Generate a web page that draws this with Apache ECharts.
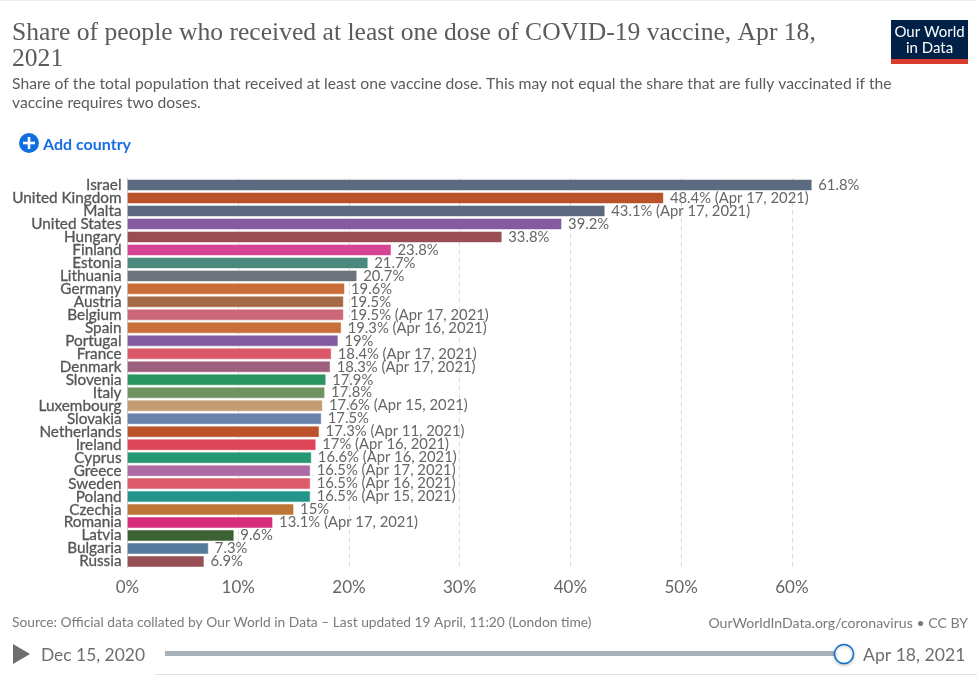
<!DOCTYPE html>
<html>
<head>
    <meta charset="UTF-8">
    <title>Share of people who received at least one dose of COVID-19 vaccine</title>
    <style>
        html, body { margin: 0; padding: 0; background: #fff; }
    </style>
</head>
<body>
<div id="main" style="width: 977px;height:676px;"></div>
<script type="text/javascript" src="https://cdn.jsdelivr.net/npm/echarts@6/dist/echarts.min.js"></script>
<script type="text/javascript">
    var countries = ['Israel', 'United Kingdom', 'Malta', 'United States', 'Hungary', 'Finland', 'Estonia', 'Lithuania',
        'Germany', 'Austria', 'Belgium', 'Spain', 'Portugal', 'France', 'Denmark', 'Slovenia', 'Italy', 'Luxembourg',
        'Slovakia', 'Netherlands', 'Ireland', 'Cyprus', 'Greece', 'Sweden', 'Poland', 'Czechia', 'Romania', 'Latvia',
        'Bulgaria', 'Russia'];
    var shares = [61.8, 48.4, 43.1, 39.2, 33.8, 23.8, 21.7, 20.7, 19.6, 19.5, 19.5, 19.3, 19, 18.4, 18.3, 17.9, 17.8, 17.6,
        17.5, 17.3, 17, 16.6, 16.5, 16.5, 16.5, 15, 13.1, 9.6, 7.3, 6.9];
    // date shown after the value when it is not the selected day
    var dates = ['', 'Apr 17, 2021', 'Apr 17, 2021', '', '', '', '', '',
        '', '', 'Apr 17, 2021', 'Apr 16, 2021', '', 'Apr 17, 2021', 'Apr 17, 2021', '', '', 'Apr 15, 2021',
        '', 'Apr 11, 2021', 'Apr 16, 2021', 'Apr 16, 2021', 'Apr 17, 2021', 'Apr 16, 2021', 'Apr 15, 2021', '', 'Apr 17, 2021', '',
        '', ''];
    var barColors = ['#5b6a7f', '#bb5229', '#5b697e', '#845ba0', '#994e56', '#d64495', '#4a8a7d', '#6f737b',
        '#c96d38', '#a66a47', '#cb6878', '#c96f3a', '#845ba0', '#db5868', '#9d5f7e', '#2a9560', '#6f9461', '#c39d72',
        '#6882aa', '#bb5229', '#dd4658', '#259873', '#ad6aa4', '#dd5a6a', '#23958d', '#bd7635', '#d62e7d', '#3c6234',
        '#547a9c', '#964f55'];
    var axisMax = 62;
    var tickStep = 10;

    var titleLines = ['Share of people who received at least one dose of COVID-19 vaccine, Apr 18,', '2021'];
    var subtitleLines = ['Share of the total population that received at least one vaccine dose. This may not equal the share that are fully vaccinated if the',
        'vaccine requires two doses.'];
    var sourceText = 'Source: Official data collated by Our World in Data \u2013 Last updated 19 April, 11:20 (London time)';
    var urlText = 'OurWorldInData.org/coronavirus \u2022 CC BY';
    var startDate = 'Dec 15, 2020';
    var endDate = 'Apr 18, 2021';

    var bodyFont = 'Lato, "Noto Sans", sans-serif';
    var titleFont = '"Liberation Serif", "DejaVu Serif", serif';

    function txt(x, y, text, size, color, family, extra) {
        var style = {
            x: x, y: y, text: text, fontSize: size, fill: color, fontFamily: family,
            textVerticalAlign: 'middle', textAlign: 'left'
        };
        for (var k in (extra || {})) style[k] = extra[k];
        return {type: 'text', silent: true, style: style};
    }

    var bars = shares.map(function (v, i) {
        return {
            value: v,
            itemStyle: {color: barColors[i], borderColor: barColors[i] + '80', borderWidth: 1},
            label: {
                formatter: v + '%' + (dates[i] ? ' (' + dates[i] + ')' : '')
            }
        };
    });

    var myChart = echarts.init(document.getElementById('main'));
    var option = {
        animation: false,
        backgroundColor: '#fff',
        textStyle: {fontFamily: bodyFont},
        grid: {left: 127.5, top: 178.5, width: 686.5, height: 389.5, containLabel: false},
        xAxis: {
            type: 'value',
            min: 0,
            max: axisMax,
            interval: tickStep,
            axisLine: {show: false},
            axisTick: {show: false},
            axisLabel: {
                show: true, color: '#666', fontSize: 17, fontFamily: bodyFont, margin: 11, showMaxLabel: false,
                formatter: function (v) { return v % tickStep === 0 ? v + '%' : ''; }
            },
            splitLine: {show: true, showMaxLine: false, lineStyle: {color: '#d8d8d8', type: [4, 4], width: 1}}
        },
        yAxis: {
            type: 'category',
            inverse: true,
            data: countries,
            axisLine: {show: true, onZero: false, lineStyle: {color: '#ccc', width: 1}},
            axisTick: {show: false},
            axisLabel: {interval: 0, color: '#555', fontSize: 15.3, fontFamily: bodyFont, margin: 6,
                textBorderColor: '#555', textBorderWidth: 0.3},
            splitLine: {show: false}
        },
        series: [{
            type: 'bar',
            data: bars,
            barWidth: 11,
            z: 3,
            label: {show: true, position: 'right', distance: 6.5, color: '#666', fontSize: 14.8, fontFamily: bodyFont}
        }],
        graphic: [
            {type: 'rect', silent: true, shape: {x: 0, y: 0, width: 977, height: 1}, style: {fill: '#eeeeee'}},
            txt(12, 33, titleLines[0], 25.6, '#5b5b5b', titleFont),
            txt(12, 59, titleLines[1], 25.6, '#5b5b5b', titleFont),
            txt(12, 84, subtitleLines[0], 15.7, '#5b5b5b', bodyFont),
            txt(12, 103, subtitleLines[1], 15.7, '#5b5b5b', bodyFont),

            // logo
            {type: 'rect', silent: true, shape: {x: 891, y: 20, width: 77, height: 39}, style: {fill: '#002147'}},
            {type: 'rect', silent: true, shape: {x: 891, y: 59, width: 77, height: 5}, style: {fill: '#d73c2e'}},
            txt(929.5, 32, 'Our World', 15, '#fff', bodyFont, {textAlign: 'center'}),
            txt(929.5, 48, 'in Data', 15, '#fff', bodyFont, {textAlign: 'center'}),

            // add country button
            {type: 'circle', silent: true, shape: {cx: 29, cy: 143, r: 10}, style: {fill: '#0f6fe0'}},
            {type: 'rect', silent: true, shape: {x: 23, y: 141.7, width: 12, height: 2.6}, style: {fill: '#fff'}},
            {type: 'rect', silent: true, shape: {x: 27.7, y: 137, width: 2.6, height: 12}, style: {fill: '#fff'}},
            txt(43, 144.5, 'Add country', 16, '#1a6fe0', bodyFont, {fontWeight: 'bold'}),

            // footer
            txt(12, 623, sourceText, 13.8, '#7a7a7a', bodyFont),
            txt(968, 623, urlText, 14.1, '#7a7a7a', bodyFont, {textAlign: 'right'}),

            // timeline
            {type: 'polygon', silent: true, shape: {points: [[13, 644], [30, 654], [13, 664]]}, style: {fill: '#6e6e6e'}},
            txt(41, 655, startDate, 17.4, '#6e6e6e', bodyFont),
            {type: 'rect', silent: true, shape: {x: 165, y: 651, width: 680, height: 5}, style: {fill: '#a9b1bd'}},
            {type: 'circle', silent: true, shape: {cx: 844, cy: 654, r: 9.5},
                style: {fill: '#fff', stroke: '#0e6fcf', lineWidth: 1.5, shadowBlur: 3, shadowColor: 'rgba(0,0,0,0.25)', shadowOffsetY: 1}},
            txt(863, 655, endDate, 17.6, '#6e6e6e', bodyFont),

            // tab strip top edge
            {type: 'rect', silent: true, shape: {x: 155, y: 674, width: 822, height: 1}, style: {fill: '#e2e2e2'}}
        ]
    };
    myChart.setOption(option);
</script>
</body>
</html>
